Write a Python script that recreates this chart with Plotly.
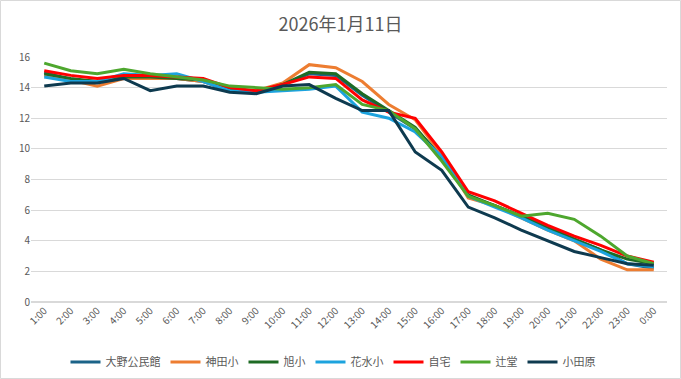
import plotly.graph_objects as go

hours = ["1:00","2:00","3:00","4:00","5:00","6:00","7:00","8:00","9:00","10:00","11:00","12:00",
         "13:00","14:00","15:00","16:00","17:00","18:00","19:00","20:00","21:00","22:00","23:00","0:00"]

ono = [15.0,14.5,14.4,14.8,14.6,14.6,14.4,13.8,13.7,14.2,14.9,14.8,13.5,12.4,11.3,9.5,6.9,6.3,5.6,4.9,4.1,3.4,2.5,2.2]
kanda = [14.8,14.5,14.1,14.6,14.6,14.6,14.4,13.9,13.8,14.3,15.5,15.3,14.4,12.9,11.9,9.6,6.8,6.3,5.5,4.7,4.0,2.8,2.1,2.1]
asahi = [14.9,14.6,14.4,14.7,14.7,14.6,14.5,13.9,13.7,14.2,15.0,14.9,13.6,12.5,11.4,9.4,7.0,6.3,5.6,4.8,4.1,3.4,2.8,2.5]
hanamizu = [14.7,14.4,14.4,14.9,14.8,14.9,14.4,13.8,13.7,13.8,13.9,14.1,12.4,12.0,11.1,9.5,6.9,6.2,5.5,4.7,4.0,3.3,2.5,2.3]
jitaku = [15.1,14.8,14.6,14.8,14.8,14.7,14.6,14.0,13.8,14.2,14.7,14.6,13.2,12.4,12.0,9.8,7.2,6.6,5.8,5.0,4.3,3.7,3.0,2.6]
tsujido = [15.6,15.1,14.9,15.2,14.9,14.7,14.5,14.1,14.0,13.9,14.0,14.2,12.9,12.5,11.3,9.2,6.9,6.3,5.6,5.8,5.4,4.3,3.0,2.5]
odawara = [14.1,14.3,14.3,14.6,13.8,14.1,14.1,13.7,13.6,14.1,14.2,13.3,12.5,12.5,9.8,8.6,6.2,5.5,4.7,4.0,3.3,2.9,2.5,2.4]

series = [
    ("大野公民館", ono, "#1B6388"),
    ("神田小", kanda, "#ED7D31"),
    ("旭小", asahi, "#1E6B24"),
    ("花水小", hanamizu, "#1CA3DE"),
    ("自宅", jitaku, "#FF0000"),
    ("辻堂", tsujido, "#4EA72E"),
    ("小田原", odawara, "#0E3A4F"),
]

fig = go.Figure()
for name, vals, color in series:
    fig.add_trace(go.Scatter(x=hours, y=vals, name=name, mode="lines",
                             line=dict(color=color, width=3)))

FONT = "Noto Sans CJK JP, Liberation Sans, sans-serif"
L, R, T, B = 31, 14, 57, 77
PW, PH = 681 - L - R, 379 - T - B
fig.update_layout(
    width=681, height=379,
    margin=dict(l=L, r=R, t=T, b=B, autoexpand=False),
    paper_bgcolor="white", plot_bgcolor="white",
    font=dict(family=FONT, color="#595959", size=10),
    title=dict(text="2026年1月11日", x=0.5, xanchor="center", y=1 - 25/379, yref="container",
               yanchor="middle", font=dict(size=18, color="#595959", family=FONT)),
    showlegend=True,
    legend=dict(orientation="h", x=0.5 - 16 / PW, xanchor="center", y=(302 - 362) / PH,
                yanchor="middle", font=dict(size=11, color="#595959"), tracegroupgap=0),
    xaxis=dict(type="category", range=[-0.5, 23.5], tickangle=-45, showgrid=False,
               showline=False, ticks="", automargin=False, tickfont=dict(size=10, color="#595959")),
    yaxis=dict(range=[0, 16], dtick=2, showgrid=True, gridcolor="#D9D9D9", gridwidth=1,
               zeroline=True, zerolinecolor="#D9D9D9", ticks="", showline=False, automargin=False,
               tickfont=dict(size=10, color="#595959")),
    shapes=[dict(type="rect", xref="paper", yref="paper",
                 x0=(0.5 - L) / PW, x1=(680.5 - L) / PW, y0=(302 - 378.5) / PH, y1=(302 - 0.5) / PH,
                 line=dict(color="#D9D9D9", width=1), fillcolor="rgba(0,0,0,0)", layer="below")],
)

fig.write_html("out.html", config={"displayModeBar": False},
               post_script="document.body.style.margin='0';document.body.style.overflow='hidden';")
